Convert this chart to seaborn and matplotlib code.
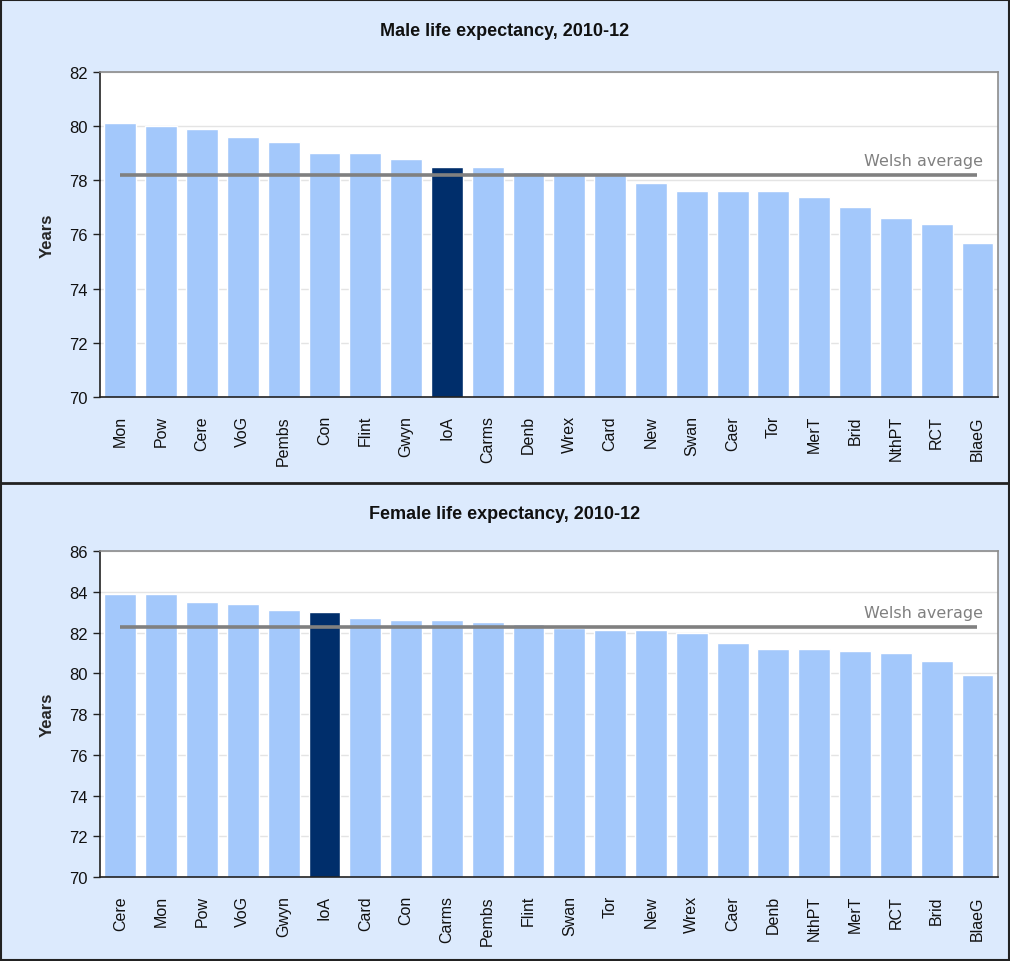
import pandas as pd
import seaborn as sns
import matplotlib.pyplot as plt
from matplotlib.patches import Rectangle
from matplotlib.lines import Line2D

# data
male_areas = ['Mon', 'Pow', 'Cere', 'VoG', 'Pembs', 'Con', 'Flint', 'Gwyn', 'IoA', 'Carms', 'Denb',
              'Wrex', 'Card', 'New', 'Swan', 'Caer', 'Tor', 'MerT', 'Brid', 'NthPT', 'RCT', 'BlaeG']
male_years = [80.1, 80.0, 79.9, 79.6, 79.4, 79.0, 79.0, 78.8, 78.5, 78.5, 78.3,
              78.2, 78.2, 77.9, 77.6, 77.6, 77.6, 77.4, 77.0, 76.6, 76.4, 75.7]
male_avg = 78.2

female_areas = ['Cere', 'Mon', 'Pow', 'VoG', 'Gwyn', 'IoA', 'Card', 'Con', 'Carms', 'Pembs', 'Flint',
                'Swan', 'Tor', 'New', 'Wrex', 'Caer', 'Denb', 'NthPT', 'MerT', 'RCT', 'Brid', 'BlaeG']
female_years = [83.9, 83.9, 83.5, 83.4, 83.1, 83.0, 82.7, 82.6, 82.6, 82.5, 82.4,
                82.2, 82.1, 82.1, 82.0, 81.5, 81.2, 81.2, 81.1, 81.0, 80.6, 79.9]
female_avg = 82.25

highlight = 'IoA'
light_blue = '#A3C8FB'
dark_blue = '#002E6B'
panel_bg = '#DCEAFD'

sns.set_theme(style='white')
plt.rcParams['font.family'] = ['Liberation Sans', 'DejaVu Sans']

fig = plt.figure(figsize=(10.1, 9.62), dpi=100, facecolor=panel_bg)

# panel frames
fig.add_artist(Rectangle((0.001, 0.001), 0.998, 0.998, transform=fig.transFigure,
                         fill=False, edgecolor='#222222', lw=1.5))
fig.add_artist(Line2D([0, 1], [1 - 484 / 962, 1 - 484 / 962], transform=fig.transFigure,
                      color='#222222', lw=2))

panels = [
    ('Male life expectancy, 2010-12', male_areas, male_years, male_avg,
     [0.099, 0.5863, 0.889, 0.3378], 82, 1 - 32 / 962),
    ('Female life expectancy, 2010-12', female_areas, female_years, female_avg,
     [0.099, 0.0873, 0.889, 0.3389], 86, 1 - 515 / 962),
]

for title, areas, years, avg, pos, ymax, title_y in panels:
    ax = fig.add_axes(pos)
    df = pd.DataFrame({'area': areas, 'years': years})
    palette = {a: (dark_blue if a == highlight else light_blue) for a in areas}
    sns.barplot(data=df, x='area', y='years', hue='area', palette=palette, legend=False,
                width=0.78, saturation=1, ax=ax, zorder=2)

    ax.set_ylim(70, ymax)
    ax.set_yticks(range(70, ymax + 1, 2))
    ax.set_xlim(-0.5, len(areas) - 0.5)
    ax.set_facecolor('white')
    ax.yaxis.grid(True, color='#E4E4E4', lw=1, zorder=0)
    ax.set_axisbelow(True)

    for side in ['left', 'bottom']:
        ax.spines[side].set_color('#222222')
        ax.spines[side].set_linewidth(1.2)
    for side in ['top', 'right']:
        ax.spines[side].set_color('#8C8C8C')
        ax.spines[side].set_linewidth(1.2)

    ax.tick_params(axis='y', which='major', left=True, length=5, width=1, color='#222222',
                   labelsize=12, pad=4, labelcolor='#111111')
    ax.tick_params(axis='x', bottom=False, labelsize=11.5, rotation=90, pad=7, labelcolor='#111111')
    ax.set_xlabel('')
    ax.set_ylabel('Years', fontsize=12, fontweight='bold', labelpad=10)

    # Welsh average line
    ax.hlines(avg, 0, len(areas) - 1, color='#808080', lw=2.6, zorder=3)
    ax.annotate('Welsh average', xy=(len(areas) - 1 + 0.14, avg), xytext=(0, 5),
                textcoords='offset points', ha='right', va='bottom',
                fontsize=11.5, color='#808080', family=['DejaVu Sans'])

    fig.text(0.5, title_y, title, ha='center', va='center', fontsize=13,
             fontweight='bold', color='#111111')

fig.savefig('out.png', dpi=100, facecolor=panel_bg)
